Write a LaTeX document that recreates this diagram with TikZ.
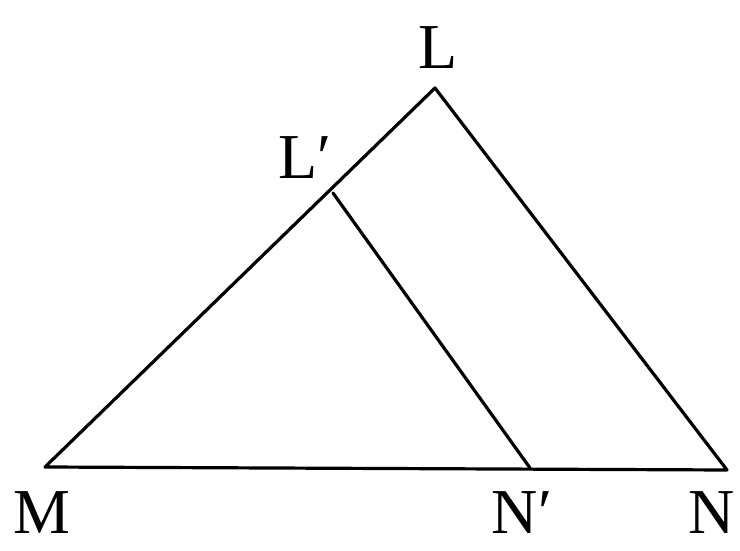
\documentclass[tikz,border=0pt]{standalone}
\usepackage{fontspec}
\setmainfont{Liberation Serif}
\begin{document}
\begin{tikzpicture}[x=1pt,y=-1pt,
  edge/.style={line width=3.2pt,line join=round,line cap=round},
  lbl/.style={font=\fontsize{64}{64}\selectfont,inner sep=0pt}]
\useasboundingbox (0,0) rectangle (740,551);
\coordinate (L) at (435,88);
\coordinate (M) at (45,467);
\coordinate (N) at (727,470);
\coordinate (Lp) at (333,193);
\coordinate (Np) at (530,468);
\draw[edge] (M) -- (L) -- (N) -- cycle;
\draw[edge] (Lp) -- (Np);
\node[lbl] (tL) at (438,48) {L};
\node[lbl] (tLp) at (305,158) {L′};
\node[lbl] (tM) at (42,513) {M};
\node[lbl] (tNp) at (522,513) {N′};
\node[lbl] (tN) at (712,513) {N};
\end{tikzpicture}
\end{document}
